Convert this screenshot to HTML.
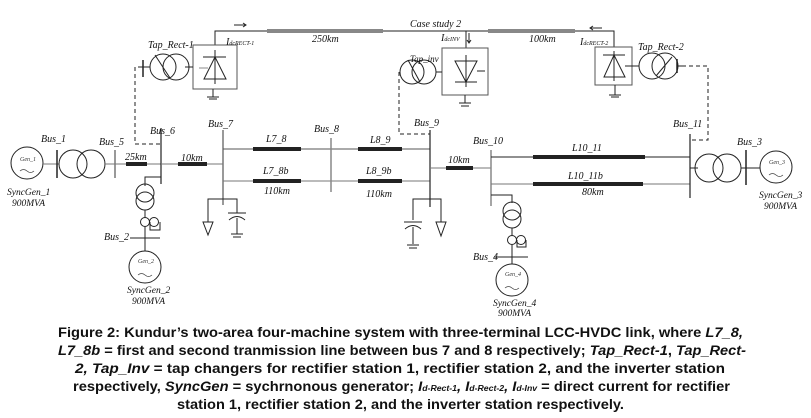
<!DOCTYPE html>
<html><head><meta charset="utf-8"><style>
html,body{margin:0;padding:0;background:#fff;}
svg{display:block;}
.it{font-family:"Liberation Serif",serif;font-style:italic;font-size:10px;fill:#111;}
.sm{font-family:"Liberation Serif",serif;font-style:italic;font-size:6px;fill:#333;}
.cap{font-family:"Liberation Sans",sans-serif;font-weight:bold;font-size:13.5px;fill:#111;}
</style></head><body>
<svg width="811" height="418" viewBox="0 0 811 418" xmlns="http://www.w3.org/2000/svg">
<g fill="none" stroke="#222" stroke-width="1">
<!-- Gen1 -->
<circle cx="27" cy="163" r="16"/>
<line x1="43" y1="164" x2="59" y2="164" stroke="#777"/>
<line x1="57" y1="150" x2="57" y2="178" stroke-width="1.5"/>
<circle cx="73" cy="164" r="14"/><circle cx="91" cy="164" r="14"/>
<line x1="105" y1="164" x2="161" y2="164" stroke="#777"/>
<line x1="115" y1="150" x2="115" y2="178" stroke="#777" stroke-width="1.5"/>
<line x1="126" y1="164" x2="147" y2="164" stroke-width="4"/>
<line x1="161" y1="128" x2="161" y2="184" stroke-width="1.2"/>
<line x1="161" y1="164" x2="223" y2="164" stroke="#777"/>
<line x1="178" y1="164" x2="207" y2="164" stroke-width="4"/>
<!-- bus2 branch -->
<path d="M161 177 H145 V186"/>
<circle cx="145" cy="193" r="9"/><circle cx="145" cy="201" r="9"/>
<line x1="145" y1="210" x2="145" y2="218"/>
<circle cx="145" cy="222" r="4.5"/><circle cx="154" cy="222" r="4.5"/>
<path d="M150 222 V230 H160 V222"/>
<line x1="145" y1="227" x2="145" y2="251"/>
<line x1="130" y1="238" x2="160" y2="238"/>
<circle cx="145" cy="267" r="16"/>
<!-- bus7 -->
<line x1="223" y1="130" x2="223" y2="205" stroke="#777" stroke-width="1.5"/>
<line x1="223" y1="149" x2="430" y2="149" stroke="#555"/>
<line x1="223" y1="181" x2="430" y2="181" stroke="#777"/>
<line x1="253" y1="149" x2="301" y2="149" stroke-width="4"/>
<line x1="253" y1="181" x2="301" y2="181" stroke-width="4"/>
<line x1="358" y1="149" x2="402" y2="149" stroke-width="4"/>
<line x1="358" y1="181" x2="402" y2="181" stroke-width="4"/>
<line x1="331" y1="138" x2="331" y2="192" stroke="#888" stroke-width="1.5"/>
<path d="M223 199 H208 V222"/><path d="M203 222 L213 222 L208 235 Z"/>
<path d="M223 199 H237 V213"/>
<line x1="228" y1="213" x2="246" y2="213"/><path d="M229 220 Q237 213 245 220"/>
<line x1="237" y1="218" x2="237" y2="234"/><line x1="231" y1="234" x2="243" y2="234"/><line x1="233" y1="237" x2="241" y2="237"/>
<!-- bus9 -->
<line x1="430" y1="130" x2="430" y2="207" stroke-width="1.2"/>
<line x1="430" y1="168" x2="491" y2="168" stroke="#777"/>
<line x1="446" y1="168" x2="473" y2="168" stroke-width="4"/>
<path d="M430 199 H413 V220"/>
<line x1="404" y1="222" x2="422" y2="222"/><path d="M405 229 Q413 222 421 229"/>
<line x1="413" y1="227" x2="413" y2="244"/><line x1="407" y1="245" x2="419" y2="245"/><line x1="409" y1="248" x2="417" y2="248"/>
<path d="M430 199 H441 V222"/><path d="M436 222 L446 222 L441 236 Z"/>
<!-- bus10 -->
<line x1="491" y1="150" x2="491" y2="206" stroke="#888" stroke-width="1.5"/>
<line x1="491" y1="157" x2="690" y2="157"/>
<line x1="491" y1="184" x2="690" y2="184" stroke="#777"/>
<line x1="533" y1="157" x2="645" y2="157" stroke-width="4"/>
<line x1="533" y1="184" x2="643" y2="184" stroke-width="4"/>
<path d="M491 195 H512 V203"/>
<circle cx="512" cy="211" r="9"/><circle cx="512" cy="219" r="9"/>
<line x1="512" y1="228" x2="512" y2="236"/>
<circle cx="512" cy="240" r="4.5"/><circle cx="521" cy="240" r="4.5"/>
<path d="M517 240 V247 H526 V240"/>
<line x1="512" y1="245" x2="512" y2="264"/>
<line x1="494" y1="257" x2="528" y2="257"/>
<circle cx="512" cy="280" r="16"/>
<!-- bus11 -->
<line x1="690" y1="134" x2="690" y2="198" stroke-width="1.2"/>
<line x1="690" y1="168" x2="698" y2="168"/>
<circle cx="709" cy="168" r="14"/><circle cx="727" cy="168" r="14"/>
<line x1="741" y1="168" x2="760" y2="168"/>
<line x1="746" y1="150" x2="746" y2="185" stroke-width="1.5"/>
<circle cx="776" cy="167" r="16"/>
<!-- DC line -->
<path d="M215 45 V31 H614 V47"/>
<line x1="267" y1="31" x2="383" y2="31" stroke="#888" stroke-width="4"/>
<line x1="488" y1="31" x2="575" y2="31" stroke="#888" stroke-width="4"/>
<line x1="466" y1="31" x2="466" y2="48"/>
<!-- rect1 -->
<rect x="193" y="45" width="44" height="44" stroke="#555"/>
<line x1="203" y1="57" x2="226" y2="57"/><path d="M204 79 L226 79 L215 57 Z"/>
<line x1="215" y1="50" x2="215" y2="84"/><line x1="199" y1="68" x2="208" y2="68" stroke="#888"/>
<line x1="213" y1="89" x2="213" y2="97"/><line x1="207" y1="97" x2="219" y2="97"/><line x1="209" y1="99" x2="217" y2="99"/>
<line x1="185" y1="67" x2="193" y2="67"/>
<circle cx="163" cy="67" r="13"/><circle cx="176" cy="67" r="13"/>
<line x1="155" y1="55" x2="170" y2="78"/>
<line x1="143" y1="60" x2="143" y2="77" stroke-width="1.5"/><line x1="138" y1="67" x2="150" y2="67"/>
<path d="M135 67 V144 H161" stroke-dasharray="4,3"/>
<path d="M234 25 H246 M243 23 L246 25 L243 27"/>
<!-- inverter -->
<rect x="442" y="48" width="46" height="47" stroke="#555"/>
<line x1="455" y1="61" x2="477" y2="61"/><path d="M455 61 L477 61 L466 82 Z"/>
<line x1="466" y1="55" x2="466" y2="87"/><line x1="455" y1="82" x2="477" y2="82"/><line x1="477" y1="71" x2="485" y2="71"/>
<line x1="465" y1="95" x2="465" y2="103"/><line x1="459" y1="103" x2="471" y2="103"/><line x1="461" y1="106" x2="469" y2="106"/>
<path d="M469 33 V43 M467 40 L469 43 L471 40"/>
<line x1="436" y1="72" x2="442" y2="72"/>
<circle cx="412" cy="72" r="12"/><circle cx="424" cy="72" r="12"/>
<line x1="408" y1="60" x2="420" y2="82"/>
<path d="M399 72 V134 H430" stroke-dasharray="4,3"/>
<!-- rect2 -->
<rect x="595" y="47" width="37" height="38" stroke="#555"/>
<line x1="603" y1="55" x2="625" y2="55"/><path d="M604 77 L625 77 L614 55 Z"/>
<line x1="614" y1="51" x2="614" y2="81"/><line x1="625" y1="66" x2="632" y2="66"/>
<line x1="615" y1="85" x2="615" y2="95"/><line x1="609" y1="95" x2="621" y2="95"/><line x1="611" y1="97" x2="619" y2="97"/>
<path d="M602 28 H590 M593 26 L590 28 L593 30"/>
<line x1="632" y1="66" x2="639" y2="66"/>
<circle cx="652" cy="66" r="13"/><circle cx="665" cy="66" r="13"/>
<line x1="656" y1="76" x2="672" y2="57"/>
<line x1="678" y1="66" x2="684" y2="66"/><line x1="677" y1="59" x2="677" y2="73" stroke-width="1.5"/>
<path d="M682 66 H708 V140 H690" stroke-dasharray="4,3"/>
</g>
<!-- gen waves -->
<g fill="none" stroke="#444" stroke-width="0.8">
<path d="M20 171 q3.5 -3 7 0 t7 0"/><path d="M138 275 q3.5 -3 7 0 t7 0"/>
<path d="M505 288 q3.5 -3 7 0 t7 0"/><path d="M769 175 q3.5 -3 7 0 t7 0"/>
</g>
<text class="sm" x="20" y="161">Gen_1</text><text class="sm" x="138" y="263">Gen_2</text>
<text class="sm" x="505" y="276">Gen_4</text><text class="sm" x="769" y="164">Gen_3</text>
<g class="it">
<text x="41" y="142">Bus_1</text><text x="99" y="145">Bus_5</text><text x="150" y="134">Bus_6</text>
<text x="208" y="127">Bus_7</text><text x="314" y="132">Bus_8</text><text x="414" y="126">Bus_9</text>
<text x="473" y="144">Bus_10</text><text x="673" y="127">Bus_11</text><text x="737" y="145">Bus_3</text>
<text x="104" y="240">Bus_2</text><text x="473" y="260">Bus_4</text>
<text x="125" y="160">25km</text><text x="181" y="161">10km</text><text x="448" y="163">10km</text>
<text x="266" y="142">L7_8</text><text x="263" y="174">L7_8b</text><text x="264" y="194">110km</text>
<text x="370" y="143">L8_9</text><text x="366" y="174">L8_9b</text><text x="366" y="197">110km</text>
<text x="572" y="151">L10_11</text><text x="568" y="179">L10_11b</text><text x="582" y="195">80km</text>
<text x="312" y="42">250km</text><text x="529" y="42">100km</text><text x="410" y="27">Case study 2</text>
<text x="148" y="48">Tap_Rect-1</text><text x="638" y="50">Tap_Rect-2</text><text x="410" y="62" font-size="9">Tap_inv</text>
<text x="7" y="195" font-size="9.5">SyncGen_1</text><text x="12" y="206" font-size="9.5">900MVA</text>
<text x="127" y="293" font-size="9.5">SyncGen_2</text><text x="132" y="304" font-size="9.5">900MVA</text>
<text x="493" y="306" font-size="9.5">SyncGen_4</text><text x="498" y="316" font-size="9.5">900MVA</text>
<text x="759" y="198" font-size="9.5">SyncGen_3</text><text x="764" y="209" font-size="9.5">900MVA</text>
<text x="226" y="45">I<tspan font-size="6">dcRECT-1</tspan></text>
<text x="441" y="41">I<tspan font-size="6">dcINV</tspan></text>
<text x="580" y="45">I<tspan font-size="6">dcRECT-2</tspan></text>
</g>
<g class="cap">
<text x="58" y="337" textLength="685" lengthAdjust="spacingAndGlyphs">Figure 2: Kundur’s two-area four-machine system with three-terminal LCC-HVDC link, where <tspan font-style="italic">L7_8,</tspan></text>
<text x="58" y="355" textLength="688" lengthAdjust="spacingAndGlyphs"><tspan font-style="italic">L7_8b</tspan> = first and second tranmission line between bus 7 and 8 respectively; <tspan font-style="italic">Tap_Rect-1</tspan>, <tspan font-style="italic">Tap_Rect-</tspan></text>
<text x="75" y="373" textLength="650" lengthAdjust="spacingAndGlyphs"><tspan font-style="italic">2, Tap_Inv</tspan> = tap changers for rectifier station 1, rectifier station 2, and the inverter station</text>
<text x="73" y="391" textLength="657" lengthAdjust="spacingAndGlyphs">respectively, <tspan font-style="italic">SyncGen</tspan> = sychrnonous generator; <tspan font-style="italic">I<tspan font-size="8">d-Rect-1</tspan>, I<tspan font-size="8">d-Rect-2</tspan>, I<tspan font-size="8">d-Inv</tspan></tspan> = direct current for rectifier</text>
<text x="177" y="409" textLength="447" lengthAdjust="spacingAndGlyphs">station 1, rectifier station 2, and the inverter station respectively.</text>
</g>
</svg>
</body></html>
